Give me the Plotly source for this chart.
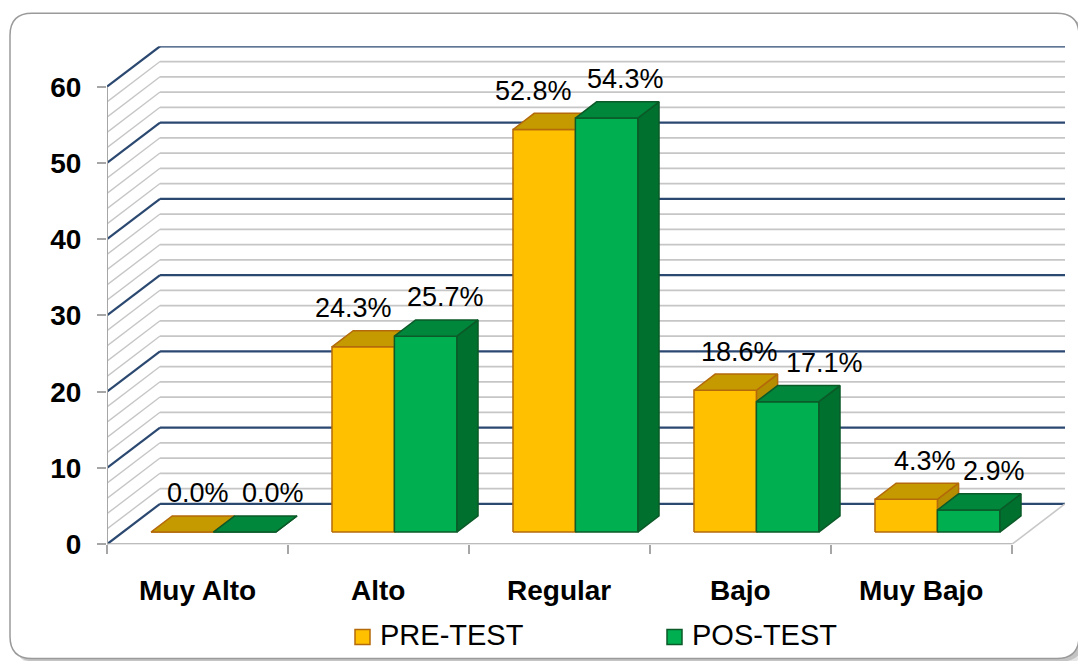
import plotly.graph_objects as go

# ---------------- data ----------------
categories = ["Muy Alto", "Alto", "Regular", "Bajo", "Muy Bajo"]
series_names = ["PRE-TEST", "POS-TEST"]
pre_test = [0.0, 24.3, 52.8, 18.6, 4.3]
pos_test = [0.0, 25.7, 54.3, 17.1, 2.9]
y_tick_values = [0, 10, 20, 30, 40, 50, 60]
y_tick_labels = ["0", "10", "20", "30", "40", "50", "60"]
minor_step = 2

# ---------------- style / layout ----------------
PAGE_W, PAGE_H = 1086, 661
OFF = 8                          # default page body margin
SY = 0.974                       # vertical squeeze observed in the capture
W = PAGE_W - 2 * OFF
H = round(PAGE_H / SY) - 2 * OFF
PX_X0, PX_X1 = 107, 1065        # plot area in target pixels
PX_Y0, PX_Y1 = 543, 46
DX = 0.293                       # depth of the floor, in category units
DY = 5.3                         # depth of the floor, in value units
D0, D1 = 0.3, 0.7                # bar depth span (fraction of floor depth)
GAP = 0.9
BAR_W = 1.0 / (2 + GAP)
FONT = "Liberation Sans, Arial, sans-serif"

pre_label_dx = [16, -10, -11, 14, 19]
pos_label_dx = [28, 20, 19, 37, 25]

series_style = [
    dict(front="#FFC000", top="#C49A00", side="#B58D00", edge="#B46A0A"),
    dict(front="#00B050", top="#00873C", side="#00702F", edge="#0B5A28"),
]

MAJOR = "#2B4870"
MINOR = "#C6C6C6"
AXIS = "#A6A6A6"

n = len(categories)
ymax = max(y_tick_values)

fig = go.Figure()


def px2paper(px, py):
    """target pixel -> paper coordinate of the figure"""
    return (px - OFF) / W, 1 - (py / SY - OFF) / H


def line(xs, ys, color, width):
    fig.add_trace(go.Scatter(x=xs, y=ys, mode="lines",
                             line=dict(color=color, width=width),
                             hoverinfo="skip", showlegend=False))


def poly(xs, ys, fill, edge):
    fig.add_trace(go.Scatter(x=xs + [xs[0]], y=ys + [ys[0]], mode="lines",
                             fill="toself", fillcolor=fill,
                             line=dict(color=edge, width=1.5),
                             hoverinfo="skip", showlegend=False))


# walls: minor lines first, then major
for want_major in (False, True):
    for v in range(0, ymax + 1, minor_step):
        is_major = (v % 10 == 0)
        if is_major != want_major:
            continue
        col = MAJOR if is_major else MINOR
        wd = 2.2 if is_major else 1.8
        line([DX, n + DX], [v + DY, v + DY], col, wd)              # back wall
        line([0, DX], [v, v + DY], col, wd if is_major else 1.4)    # side wall

# floor edges and value axis line
line([0, n], [0, 0], AXIS, 2)
line([n, n + DX], [0, DY], "#C8C8C8", 1.6)
line([0, 0], [0, ymax], AXIS, 2)

# bars (painter's order: PRE-TEST then POS-TEST)
annotations = []
for s, vals in enumerate([pre_test, pos_test]):
    st = series_style[s]
    nudges = pre_label_dx if s == 0 else pos_label_dx
    for i, v in enumerate(vals):
        x_left = i + 0.5 - BAR_W + s * BAR_W
        xl0 = x_left + D0 * DX
        xr0 = xl0 + BAR_W
        xl1 = x_left + D1 * DX
        xr1 = xl1 + BAR_W
        yb0, yt0 = D0 * DY, v + D0 * DY
        yb1, yt1 = D1 * DY, v + D1 * DY
        poly([xr0, xr1, xr1, xr0], [yb0, yb1, yt1, yt0], st["side"], st["edge"])
        poly([xl0, xr0, xr0, xl0], [yb0, yb0, yt0, yt0], st["front"], st["edge"])
        poly([xl0, xr0, xr1, xl1], [yt0, yt0, yt1, yt1], st["top"], st["edge"])
        annotations.append(dict(
            x=xl0 + BAR_W / 2, y=yt1, xref="x", yref="y",
            text=f"{v:.1f}%", showarrow=False, xanchor="center", yanchor="middle",
            xshift=nudges[i], yshift=22 / SY,
            font=dict(family=FONT, size=27, color="#000000")))

# category labels
for i, c in enumerate(categories):
    annotations.append(dict(
        x=i + 0.5, y=0, xref="x", yref="y", text=c, showarrow=False,
        xanchor="center", yanchor="middle", yshift=-45 / SY,
        font=dict(family=FONT, size=28, color="#000000", weight="bold")))

# legend (manual)
shapes = []
legend_sq = [(355, 628), (667, 628)]
legend_tx = [378, 690]
for s, name in enumerate(series_names):
    st = series_style[s]
    sx, sy = legend_sq[s]
    x0, y0 = px2paper(sx, sy)
    x1, y1 = px2paper(sx + 15, sy + 15)
    shapes.append(dict(type="rect", xref="paper", yref="paper", x0=x0, y0=y1,
                       x1=x1, y1=y0, fillcolor=st["front"],
                       line=dict(color=st["edge"], width=1.5), layer="above"))
    tx, ty = px2paper(legend_tx[s], 634)
    annotations.append(dict(
        x=tx, y=ty, xref="paper", yref="paper", text=name, showarrow=False,
        xanchor="left", yanchor="middle",
        font=dict(family=FONT, size=29, color="#000000")))


# rounded outer frame with shadow
def rrect_path(x0, y0, x1, y1, r):
    def P(x, y):
        X, Y = px2paper(x, y)
        return f"{X:.5f},{Y:.5f}"
    return (f"M {P(x0 + r, y0)} L {P(x1 - r, y0)} Q {P(x1, y0)} {P(x1, y0 + r)} "
            f"L {P(x1, y1 - r)} Q {P(x1, y1)} {P(x1 - r, y1)} "
            f"L {P(x0 + r, y1)} Q {P(x0, y1)} {P(x0, y1 - r)} "
            f"L {P(x0, y0 + r)} Q {P(x0, y0)} {P(x0 + r, y0)} Z")


frame_shapes = [
    dict(type="path", xref="paper", yref="paper", layer="below",
         path=rrect_path(16, 19, 1085, 663, 22), fillcolor="#E6E6E6",
         line=dict(width=0)),
    dict(type="path", xref="paper", yref="paper", layer="below",
         path=rrect_path(13, 16, 1083, 660, 22), fillcolor="#C4C4C4",
         line=dict(width=0)),
    dict(type="path", xref="paper", yref="paper", layer="below",
         path=rrect_path(10, 13, 1079, 657, 22), fillcolor="#FFFFFF",
         line=dict(color="#9A9A9A", width=1.5)),
]

fig.update_layout(
    width=W, height=H,
    margin=dict(l=0, r=0, t=0, b=0),
    paper_bgcolor="#FFFFFF",
    plot_bgcolor="rgba(0,0,0,0)",
    showlegend=False,
    shapes=frame_shapes + shapes,
    annotations=annotations,
    xaxis=dict(domain=[(PX_X0 - OFF) / W, (PX_X1 - OFF) / W], range=[0, n + DX],
               tickvals=list(range(n + 1)), showticklabels=False,
               ticks="outside", ticklen=9, tickwidth=2, tickcolor=AXIS,
               showgrid=False, zeroline=False, showline=False, fixedrange=True),
    yaxis=dict(domain=[1 - (PX_Y0 / SY - OFF) / H, 1 - (PX_Y1 / SY - OFF) / H],
               range=[0, ymax + DY],
               tickvals=y_tick_values, ticktext=y_tick_labels,
               ticks="outside", ticklen=9, tickwidth=2, tickcolor=AXIS,
               ticklabelstandoff=10,
               tickfont=dict(family=FONT, size=28, color="#000000", weight="bold"),
               showgrid=False, zeroline=False, showline=False, fixedrange=True),
)

fig.write_html("out.html")
